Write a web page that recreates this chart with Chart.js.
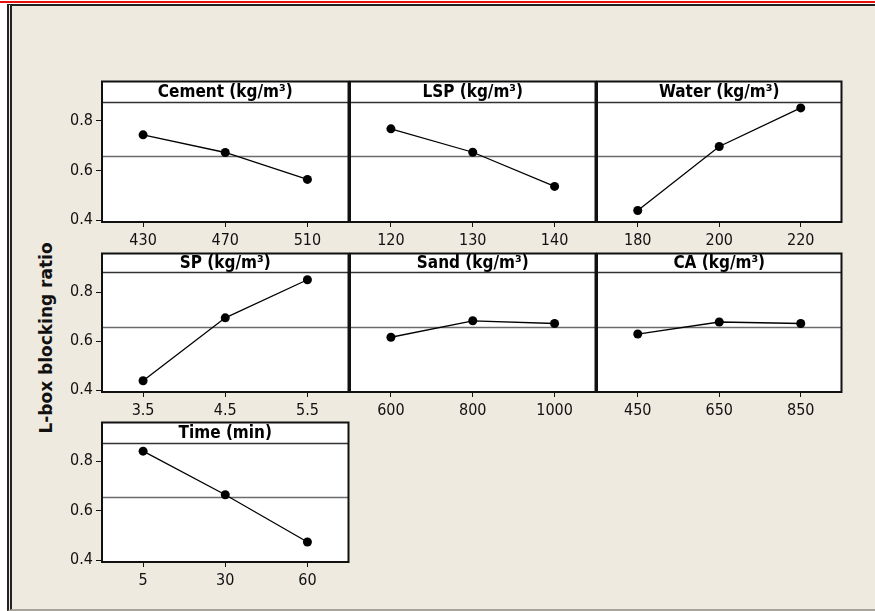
<!DOCTYPE html>
<html>
<head>
<meta charset="utf-8">
<script src="https://cdn.jsdelivr.net/npm/chart.js@4"></script>
<style>
body { margin: 0; background: #fff; width: 875px; height: 611px; overflow: hidden; position: relative; }
#redline { position: absolute; left: 0; top: 1px; width: 875px; height: 2px; background: #e8100c; }
#frame { position: absolute; left: 7px; top: 4px; width: 863px; height: 603px; background: #efeae0;
         border-top: 2px solid #222; border-left: 5px double #222; border-bottom: 2px solid #a8a49c; }
canvas { position: absolute; }
#ytitle { position: absolute; left: 46px; top: 338px; transform: translate(-50%, -50%) rotate(-90deg);
          font: bold 17px 'DejaVu Sans', sans-serif; white-space: nowrap; color: #111; }
</style>
</head>
<body>
<div id="redline"></div>
<div id="frame"></div>
<div id="ytitle">L-box blocking ratio</div>

<script>
// factor names and levels
var panelTitles = ['Cement (kg/m³)', 'LSP (kg/m³)', 'Water (kg/m³)', 'SP (kg/m³)', 'Sand (kg/m³)', 'CA (kg/m³)', 'Time (min)'];
var cementLevels = ['430', '470', '510'];
var lspLevels = ['120', '130', '140'];
var waterLevels = ['180', '200', '220'];
var spLevels = ['3.5', '4.5', '5.5'];
var sandLevels = ['600', '800', '1000'];
var caLevels = ['450', '650', '850'];
var timeLevels = ['5', '30', '60'];

// mean L-box blocking ratio at each level
var cementMeans = [0.743, 0.672, 0.564];
var lspMeans = [0.767, 0.673, 0.536];
var waterMeans = [0.439, 0.696, 0.851];
var spMeans = [0.439, 0.695, 0.850];
var sandMeans = [0.616, 0.683, 0.672];
var caMeans = [0.629, 0.678, 0.672];
var timeMeans = [0.841, 0.665, 0.474];

var grandMean = 0.657;
var yTicks = [0.4, 0.6, 0.8];
var yMin = 0.393, yMax = 0.957;

var levelSets = [cementLevels, lspLevels, waterLevels, spLevels, sandLevels, caLevels, timeLevels];
var meanSets = [cementMeans, lspMeans, waterMeans, spMeans, sandMeans, caMeans, timeMeans];

// panel geometry
var colX = [102, 350, 597];
var colW = [248, 247, 246];
var rowY = [79, 251, 420];
var rowH = [143, 141, 142];
var hdrH = [21, 19, 21];
var L = 60, padTop = 2, padRight = 3, xH = 32;
var tickFont = "'DejaVu Sans Condensed', 'DejaVu Sans', sans-serif";

function noPad(s) {
    s.paddingTop = 0; s.paddingBottom = 0; s.paddingLeft = 0; s.paddingRight = 0;
}

var panelDeco = {
    id: 'panelDeco',
    beforeDraw: function (chart) {
        var a = chart.chartArea, ctx = chart.ctx;
        ctx.save();
        ctx.fillStyle = '#fff';
        ctx.fillRect(a.left, a.top, a.right - a.left, a.bottom - a.top);
        // grand mean reference line
        var y = Math.round(chart.scales.y.getPixelForValue(grandMean)) + 0.5;
        ctx.strokeStyle = '#6b6b6b';
        ctx.lineWidth = 1.5;
        ctx.beginPath();
        ctx.moveTo(a.left, y);
        ctx.lineTo(a.right, y);
        ctx.stroke();
        ctx.restore();
    },
    afterDatasetsDraw: function (chart, args, opts) {
        var a = chart.chartArea, ctx = chart.ctx;
        ctx.save();
        ctx.fillStyle = '#fff';
        ctx.fillRect(a.left, a.top, a.right - a.left, opts.hdr);
        ctx.strokeStyle = '#333';
        ctx.lineWidth = 1.5;
        ctx.beginPath();
        ctx.moveTo(a.left, a.top + opts.hdr);
        ctx.lineTo(a.right, a.top + opts.hdr);
        ctx.stroke();
        ctx.fillStyle = '#000';
        ctx.font = "bold 17px " + tickFont;
        ctx.textAlign = 'center';
        ctx.textBaseline = 'middle';
        ctx.fillText(opts.title, (a.left + a.right) / 2, a.top + opts.hdr / 2 + 1);
        ctx.strokeStyle = '#111';
        ctx.lineWidth = 2;
        ctx.strokeRect(a.left, a.top, a.right - a.left, a.bottom - a.top);
        ctx.restore();
    }
};

panelTitles.forEach(function (title, i) {
    var col = i % 3, row = Math.floor(i / 3);
    var cv = document.createElement('canvas');
    var w = L + colW[col] + padRight, h = padTop + rowH[row] + xH;
    cv.width = w; cv.height = h;
    cv.style.left = (colX[col] - L) + 'px';
    cv.style.top = (rowY[row] - padTop) + 'px';
    cv.style.width = w + 'px'; cv.style.height = h + 'px';
    document.body.appendChild(cv);

    new Chart(cv.getContext('2d'), {
        type: 'line',
        data: {
            labels: levelSets[i],
            datasets: [{
                data: meanSets[i],
                borderColor: '#000',
                borderWidth: 1.3,
                pointRadius: 4.5,
                pointBackgroundColor: '#000',
                pointBorderWidth: 0,
                tension: 0,
                clip: false
            }]
        },
        options: {
            responsive: false,
            animation: false,
            devicePixelRatio: 1,
            layout: { padding: { top: padTop, right: padRight, left: 0, bottom: 0 } },
            plugins: {
                legend: { display: false },
                tooltip: { enabled: false },
                panelDeco: { title: title, hdr: hdrH[row] }
            },
            scales: {
                x: {
                    type: 'category',
                    offset: true,
                    grid: { display: true, drawOnChartArea: false, offset: false, tickLength: 5, color: '#111' },
                    border: { display: false },
                    ticks: { color: '#111', font: { family: tickFont, size: 16 }, padding: 4, maxRotation: 0 },
                    afterFit: function (s) { s.height = xH; noPad(s); }
                },
                y: {
                    min: yMin,
                    max: yMax,
                    grid: { display: col === 0, drawOnChartArea: false, tickLength: 6, color: '#111' },
                    border: { display: false },
                    ticks: {
                        display: col === 0,
                        color: '#111',
                        font: { family: tickFont, size: 16 },
                        padding: 3,
                        callback: function (v) { return v.toFixed(1); }
                    },
                    afterBuildTicks: function (s) { s.ticks = yTicks.map(function (v) { return { value: v }; }); },
                    afterFit: function (s) { s.width = L; noPad(s); }
                }
            }
        },
        plugins: [panelDeco]
    });
});
</script>
</body>
</html>
